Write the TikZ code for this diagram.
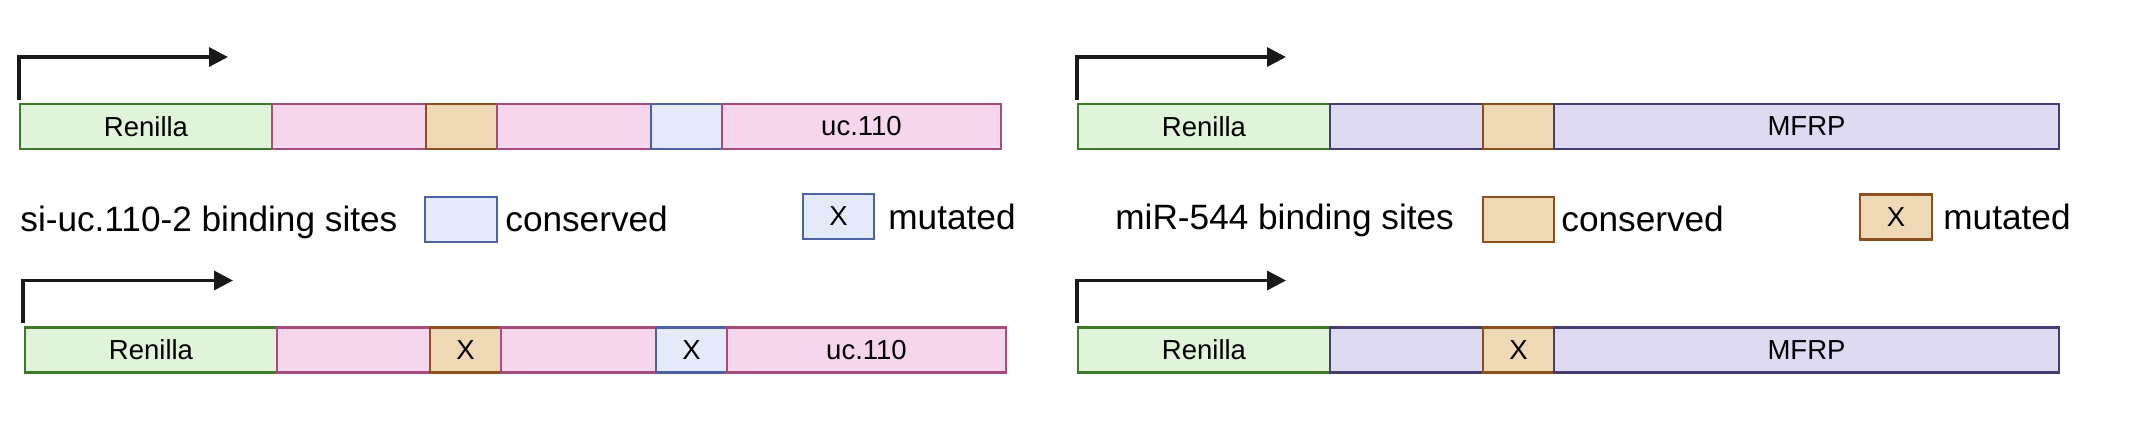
\documentclass[tikz,border=0pt]{standalone}
\usepackage{fontspec}
\setmainfont{Liberation Sans}
\usetikzlibrary{positioning,arrows.meta}
\definecolor{renfill}{HTML}{E0F4D9}
\definecolor{renline}{HTML}{3C7A2A}
\definecolor{ucfill}{HTML}{F6D6EC}
\definecolor{ucline}{HTML}{A64D7C}
\definecolor{mirfill}{HTML}{EFD8B6}
\definecolor{mirline}{HTML}{8E4F1F}
\definecolor{sifill}{HTML}{E4EAF9}
\definecolor{siline}{HTML}{4C62A5}
\definecolor{mffill}{HTML}{DDDAF2}
\definecolor{mfline}{HTML}{453C72}
\tikzset{
  seg/.style={draw, line width=1.2pt, minimum height=22.5pt,
    inner sep=0pt, outer sep=0pt, font=\fontsize{13.75}{16}\selectfont},
  renseg/.style={seg, fill=renfill, draw=renline, minimum width=126pt},
  ucseg/.style={seg, fill=ucfill, draw=ucline, minimum width=#1},
  mfseg/.style={seg, fill=mffill, draw=mfline, minimum width=#1},
  mirsite/.style={seg, fill=mirfill, draw=mirline, minimum width=35.5pt},
  sisite/.style={seg, fill=sifill, draw=siline, minimum width=35.5pt},
  promoter/.style={line width=1.7pt, draw=black!90,
    -{Triangle[length=9.5pt,width=9.5pt]}},
  legtext/.style={inner sep=0pt, anchor=base west,
    font=\fontsize{17.6}{20}\selectfont}
}
\begin{document}
\begin{tikzpicture}[x=0.5pt,y=-0.5pt]
  \useasboundingbox (0,0) rectangle (2137,447);

  % uc.110, wild type
  \node[renseg, anchor=west] (renL1) at (20,126.5) {Renilla};
  \node[ucseg=77pt, right=0pt of renL1] (ucL1a) {};
  \node[mirsite, right=0pt of ucL1a] (mirL1) {};
  \node[ucseg=77pt, right=0pt of mirL1] (ucL1b) {};
  \node[sisite, right=0pt of ucL1b] (siL1) {};
  \node[ucseg=139.5pt, right=0pt of siL1] (ucL1c) {uc.110};
  \draw[promoter] ([shift={(-1,-4)}]renL1.north west) -- ++(0,-43) -- ++(209,0);

  % uc.110, mutated
  \node[renseg, anchor=west] (renL2) at (25,350) {Renilla};
  \node[ucseg=76.5pt, right=0pt of renL2] (ucL2a) {};
  \node[mirsite, right=0pt of ucL2a] (mirL2) {X};
  \node[ucseg=77.5pt, right=0pt of mirL2] (ucL2b) {};
  \node[sisite, right=0pt of ucL2b] (siL2) {X};
  \node[ucseg=139.5pt, right=0pt of siL2] (ucL2c) {uc.110};
  \draw[promoter] ([shift={(-2,-5)}]renL2.north west) -- ++(0,-42) -- ++(210,0);

  % MFRP, wild type
  \node[renseg, anchor=west] (renR1) at (1078,126.5) {Renilla};
  \node[mfseg=76.5pt, right=0pt of renR1] (mfR1a) {};
  \node[mirsite, right=0pt of mfR1a] (mirR1) {};
  \node[mfseg=252.5pt, right=0pt of mirR1] (mfR1b) {MFRP};
  \draw[promoter] ([shift={(-1,-4)}]renR1.north west) -- ++(0,-43) -- ++(209,0);

  % MFRP, mutated
  \node[renseg, anchor=west] (renR2) at (1078,350) {Renilla};
  \node[mfseg=76.5pt, right=0pt of renR2] (mfR2a) {};
  \node[mirsite, right=0pt of mfR2a] (mirR2) {X};
  \node[mfseg=252.5pt, right=0pt of mirR2] (mfR2b) {MFRP};
  \draw[promoter] ([shift={(-1,-5)}]renR2.north west) -- ++(0,-42) -- ++(209,0);

  % legends
  \node[legtext] (legSi) at (20,231) {si-uc.110-2 binding sites};
  \node[sisite, minimum width=36pt] (legSiC) at (461,219.5) {};
  \node[legtext] (legSiCt) at (505,231) {conserved};
  \node[sisite] (legSiM) at (838.5,216.5) {X};
  \node[legtext] (legSiMt) at (888,229) {mutated};

  \node[legtext] (legMir) at (1115,229) {miR-544 binding sites};
  \node[mirsite] (legMirC) at (1518.5,219.5) {};
  \node[legtext] (legMirCt) at (1561,231) {conserved};
  \node[mirsite, minimum width=36pt] (legMirM) at (1896,217) {X};
  \node[legtext] (legMirMt) at (1943,229) {mutated};
\end{tikzpicture}
\end{document}
